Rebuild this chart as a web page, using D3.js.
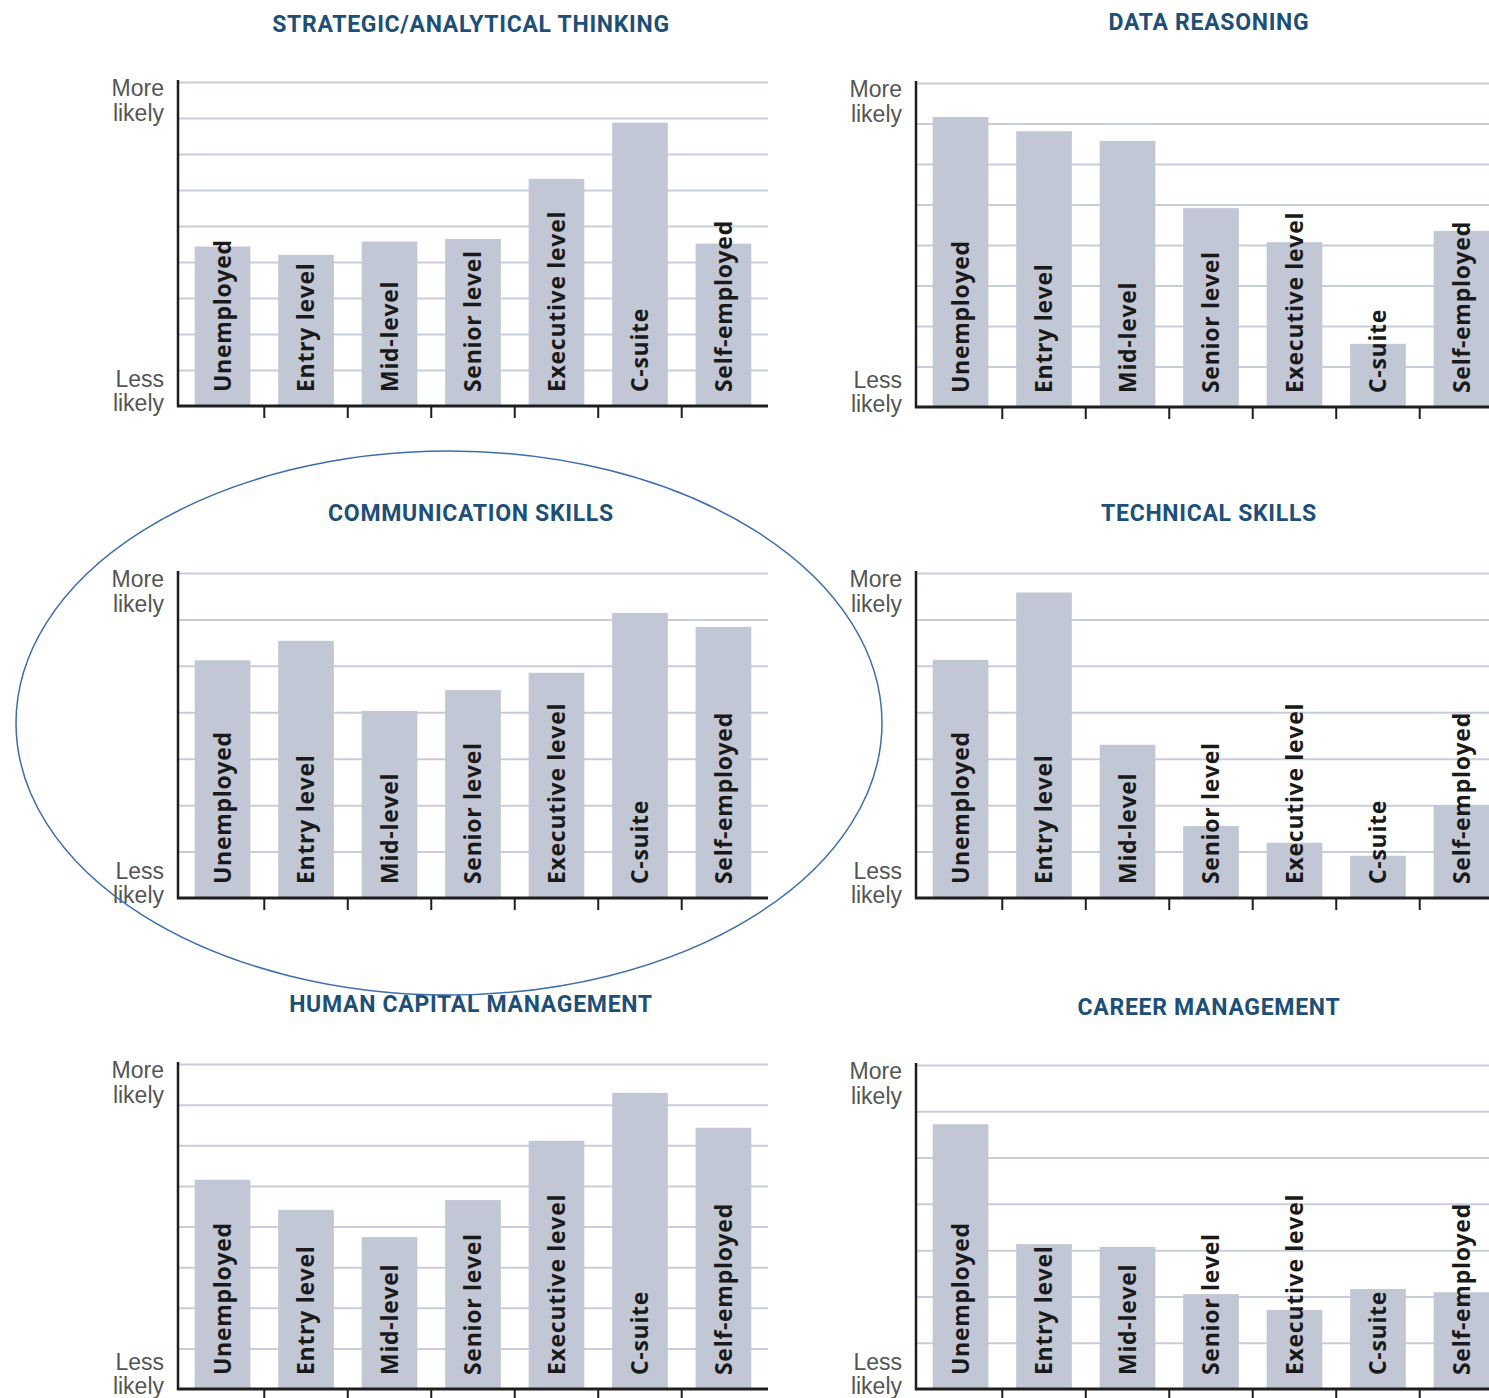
<!DOCTYPE html>
<html>
<head>
<meta charset="utf-8">
<script src="https://cdn.jsdelivr.net/npm/d3@7"></script>
<style>
  body { margin: 0; background: #fff; }
  svg { display: block; }
</style>
</head>
<body>
<svg id="chart"></svg>
<script>
/*  */
/* Data */
/*  */

const categories = ["Unemployed", "Entry level", "Mid-level", "Senior level", "Executive level", "C-suite", "Self-employed"];
const titles = ["STRATEGIC/ANALYTICAL THINKING", "DATA REASONING", "COMMUNICATION SKILLS",
                "TECHNICAL SKILLS", "HUMAN CAPITAL MANAGEMENT", "CAREER MANAGEMENT"];

// values are in gridline units (0 = "Less likely" baseline)
const strategicValues     = [4.43, 4.20, 4.57, 4.64, 6.31, 7.87, 4.51];
const dataReasoningValues = [7.16, 6.81, 6.57, 4.91, 4.07, 1.56, 4.35];
const communicationValues = [5.12, 5.54, 4.03, 4.48, 4.85, 6.14, 5.84];
const technicalValues     = [5.13, 6.58, 3.30, 1.55, 1.19, 0.91, 2.00];
const humanCapitalValues  = [5.15, 4.41, 3.74, 4.65, 6.11, 7.29, 6.43];
const careerValues        = [5.72, 3.13, 3.07, 2.05, 1.71, 2.16, 2.09];

// number of gridline steps on each panel's y axis
const gridSteps = [9, 8, 7, 7, 8, 7];

const seriesList = [strategicValues, dataReasoningValues, communicationValues,
                    technicalValues, humanCapitalValues, careerValues];

/*  */
/* Layout */
/*  */

const width = 1489, height = 1398;
const axisX = [178, 916];                 // left column, right column
const plotW = 590;
const panelTop  = [[82, 83], [573, 573], [1064, 1065]];
const panelBase = [[406, 407], [898, 898], [1389, 1389]];
const titleY    = [[32, 30], [521, 521], [1012, 1015]];

const barColor = "#c2c7d5";
const gridColor = "#c8cddb";
const axisColor = "#1e1e1e";
const titleColor = "#1d4f78";

const svg = d3.select("#chart").attr("width", width).attr("height", height);

seriesList.forEach(function(values, i){
  const row = Math.floor(i / 2), col = i % 2;
  const x0 = axisX[col];
  const top = panelTop[row][col], base = panelBase[row][col];
  const data = categories.map((c, k) => ({cat: c, value: values[k]}));

  const x = d3.scaleBand()
    .domain(categories)
    .range([x0, x0 + plotW])
    .paddingInner(0.333)
    .paddingOuter(0.2);
  const y = d3.scaleLinear()
    .domain([0, gridSteps[i]])
    .range([base, top]);

  const g = svg.append("g").attr("class", "panel");

  // title
  g.append("text")
    .attr("x", x0 + 293)
    .attr("y", titleY[row][col])
    .attr("text-anchor", "middle")
    .attr("font-family", "Roboto, sans-serif")
    .attr("font-weight", 700)
    .attr("font-size", 23)
    .attr("letter-spacing", 0.7)
    .attr("fill", titleColor)
    .text(titles[i]);

  // gridlines
  const gridAxis = d3.axisLeft(y)
    .ticks(gridSteps[i])
    .tickSize(-plotW)
    .tickFormat("");
  const grid = g.append("g")
    .attr("transform", `translate(${x0},0)`)
    .call(gridAxis);
  grid.select(".domain").remove();
  grid.selectAll(".tick line")
    .attr("stroke", gridColor)
    .attr("stroke-width", 2)
    .filter(d => d === 0).remove();

  // bars
  g.selectAll("rect.bar")
    .data(data)
    .join("rect")
    .attr("class", "bar")
    .attr("x", d => x(d.cat))
    .attr("width", x.bandwidth())
    .attr("y", d => y(d.value))
    .attr("height", d => y(0) - y(d.value))
    .attr("fill", barColor);

  // bar labels (rotated, inside bar)
  g.selectAll("text.cat")
    .data(data)
    .join("text")
    .attr("class", "cat")
    .attr("transform", d => `translate(${x(d.cat) + x.bandwidth() / 2},${y(0) - 14}) rotate(-90)`)
    .attr("dy", "0.36em")
    .attr("font-family", "'Open Sans', sans-serif")
    .attr("font-weight", 700)
    .attr("font-size", 23)
    .attr("letter-spacing", 0.7)
    .attr("fill", "#1a1a1a")
    .text(d => d.cat);

  // y axis line
  g.append("line")
    .attr("x1", x0).attr("x2", x0)
    .attr("y1", top - 2).attr("y2", base + 1)
    .attr("stroke", axisColor).attr("stroke-width", 2.5);

  // x axis with ticks between bars
  g.append("line")
    .attr("x1", x0 - 1).attr("x2", x0 + plotW)
    .attr("y1", base).attr("y2", base)
    .attr("stroke", axisColor).attr("stroke-width", 3);
  const step = x.step();
  g.selectAll("line.sep")
    .data(categories.slice(1))
    .join("line")
    .attr("class", "sep")
    .attr("x1", d => x(d) - (step - x.bandwidth()) / 2)
    .attr("x2", d => x(d) - (step - x.bandwidth()) / 2)
    .attr("y1", base).attr("y2", base + 12)
    .attr("stroke", axisColor).attr("stroke-width", 2);

  // More likely / Less likely
  const lab = g.append("g")
    .attr("font-family", "'Liberation Sans', Arial, sans-serif")
    .attr("font-size", 23)
    .attr("fill", "#555")
    .attr("text-anchor", "end");
  [["More", top + 14], ["likely", top + 39], ["Less", base - 19], ["likely", base + 5]]
    .forEach(function(t){
      lab.append("text").attr("x", x0 - 14).attr("y", t[1]).text(t[0]);
    });
});

// highlight ellipse round the communication panel
svg.append("ellipse")
  .attr("cx", 449).attr("cy", 723)
  .attr("rx", 433).attr("ry", 272)
  .attr("fill", "none")
  .attr("stroke", "#3e6eae")
  .attr("stroke-width", 1.5);
</script>
</body>
</html>
